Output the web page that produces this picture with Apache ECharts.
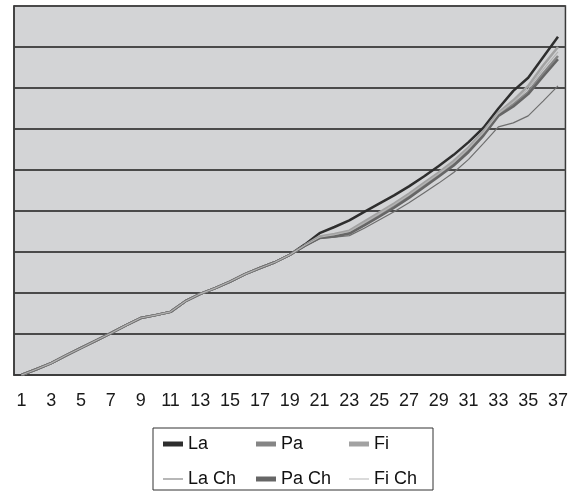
<!DOCTYPE html>
<html>
<head>
<meta charset="utf-8">
<script src="https://cdn.jsdelivr.net/npm/echarts@6/dist/echarts.min.js"></script>
<style>
  html, body { margin: 0; padding: 0; background: #fff; }
  #chart { width: 571px; height: 493px; }
</style>
</head>
<body>
<div id="chart"></div>
<script>
// x categories 1..37
const periods = ['1','2','3','4','5','6','7','8','9','10','11','12','13','14','15','16','17','18','19','20',
  '21','22','23','24','25','26','27','28','29','30','31','32','33','34','35','36','37']

// shared start of all series (points 1..19)
const common = [0, 14, 29, 48, 66, 84, 102, 121, 139, 146, 154, 180, 198, 212, 228, 246, 261, 275, 293]

const la = common.concat([318, 346, 361, 377, 398, 418, 438, 460, 484, 510, 537, 568, 603, 650, 693, 725, 775, 825])
const pa = common.concat([315, 335, 340, 348, 368, 390, 412, 436, 462, 488, 515, 548, 588, 635, 660, 690, 735, 778])
const fi = common.concat([316, 338, 344, 352, 374, 396, 418, 442, 468, 494, 522, 555, 595, 640, 670, 705, 755, 800])
const laCh = common.concat([314, 333, 336, 340, 358, 378, 398, 420, 444, 468, 494, 526, 565, 605, 615, 632, 668, 705])
const paCh = common.concat([315, 334, 338, 345, 365, 386, 408, 432, 458, 484, 511, 544, 584, 632, 655, 685, 728, 770])
const fiCh = common.concat([316, 336, 342, 350, 371, 393, 415, 439, 465, 491, 518, 552, 591, 638, 665, 698, 745, 788])

const seriesNames = ['La', 'Pa', 'Fi', 'La Ch', 'Pa Ch', 'Fi Ch']
const seriesData = [la, pa, fi, laCh, paCh, fiCh]
const seriesColors = ['#2e2e2e', '#858585', '#a2a2a2', '#6e6e6e', '#666666', '#b4b4b4']
const seriesWidths = [2.5, 2.5, 2.5, 1.2, 2.5, 1.2]

const thinIcon = 'path://M0,0H20V1H0Z'

const chart = echarts.init(document.getElementById('chart'))

const option = {
  animation: false,
  textStyle: { fontFamily: 'Liberation Sans, Arial, sans-serif' },
  grid: {
    left: 14,
    right: 5,
    top: 6,
    bottom: 118,
    show: true,
    backgroundColor: '#d3d4d6',
    borderColor: '#3a3a3a',
    borderWidth: 1.5
  },
  legend: {
    left: 153,
    top: 428,
    width: 272,
    padding: [7, 8, 2, 10],
    borderColor: '#333',
    borderWidth: 1,
    itemGap: 17,
    itemWidth: 20,
    itemHeight: 5,
    formatter: '{t|{name}}',
    textStyle: {
      color: '#111',
      fontSize: 18,
      rich: { t: { fontSize: 18, width: 51, lineHeight: 18, color: '#111' } }
    },
    data: seriesNames.map((name, i) => ({
      name: name,
      icon: seriesWidths[i] > 2 ? 'rect' : thinIcon
    }))
  },
  xAxis: {
    type: 'category',
    data: periods,
    boundaryGap: true,
    axisLine: { lineStyle: { color: '#3a3a3a', width: 1.5 } },
    axisTick: { interval: 0, length: 5, lineStyle: { color: '#3a3a3a', width: 1.5 } },
    axisLabel: { interval: 1, fontSize: 18, color: '#1a1a1a', margin: 17 }
  },
  yAxis: {
    type: 'value',
    min: 0,
    max: 900,
    interval: 100,
    axisLabel: { show: false },
    axisTick: { show: false },
    axisLine: { show: true, lineStyle: { color: '#3a3a3a', width: 1.5 } },
    splitLine: { lineStyle: { color: '#4a4a4a', width: 2 } }
  },
  series: seriesNames.map((name, i) => ({
    name: name,
    type: 'line',
    data: seriesData[i],
    symbol: 'none',
    color: seriesColors[i],
    lineStyle: { color: seriesColors[i], width: seriesWidths[i] }
  }))
}

chart.setOption(option)
</script>
</body>
</html>
